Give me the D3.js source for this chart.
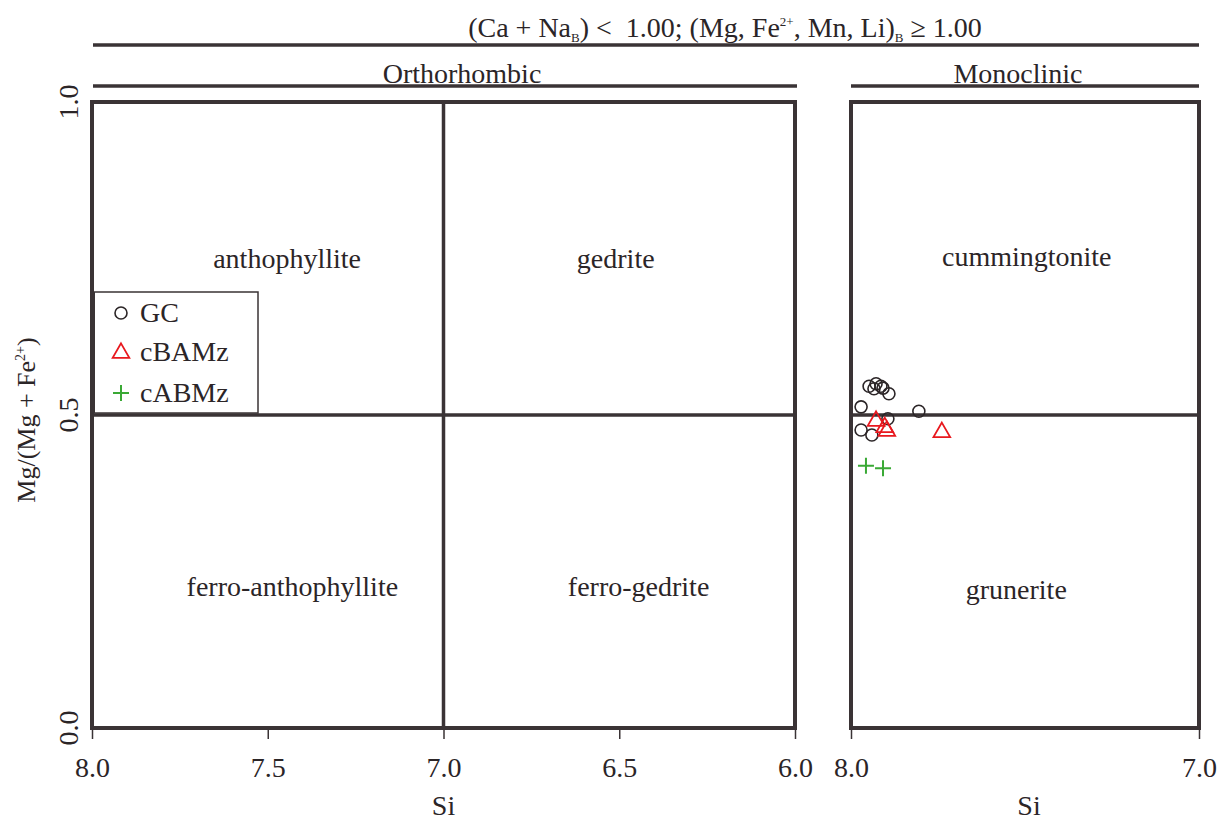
<!DOCTYPE html>
<html>
  <head>
    <meta charset="utf-8">
    <title>Mg amphibole classification</title>
    <script src="https://d3js.org/d3.v7.min.js"></script>
    <style>
      body { margin: 0; background: #fff; }
      text { font-family: "Liberation Serif", "Times New Roman", serif; fill: #2b2527; }
    </style>
  </head>
  <body>
    <script>
      // sample data: Si (apfu) and Mg/(Mg+Fe2+)
      var gcSi = [7.948, 7.928, 7.914, 7.934, 7.908, 7.891, 7.971, 7.894, 7.805, 7.971, 7.940],
        gcMg = [0.546, 0.550, 0.546, 0.542, 0.543, 0.534, 0.513, 0.494, 0.506, 0.476, 0.468];
      var cbSi = [7.928, 7.903, 7.897, 7.739],
        cbMg = [0.492, 0.482, 0.476, 0.474];
      var caSi = [7.957, 7.908],
        caMg = [0.419, 0.415];

      var seriesNames = ["GC", "cBAMz", "cABMz"];
      var leftTicks = [8.0, 7.5, 7.0, 6.5, 6.0],
        rightTicks = [8.0, 7.0],
        yTicks = [0.0, 0.5, 1.0];

      var ink = "#3a3335",
        red = "#e8181e",
        green = "#3aa935",
        fs = "28px";

      var width = 1220, height = 821;
      var svg = d3.select("body").append("svg")
        .attr("width", width)
        .attr("height", height);

      // scales for both panels
      var y = d3.scaleLinear().domain([0, 1]).range([728, 102]);
      var xLeft = d3.scaleLinear().domain([8, 6]).range([92, 795]);
      var xRight = d3.scaleLinear().domain([8, 7]).range([851, 1199]);

      // header lines and labels
      svg.append("text")
        .attr("x", 725).attr("y", 37)
        .attr("text-anchor", "middle")
        .style("font-size", fs)
        .html('(Ca + Na<tspan dy="5" font-size="13">B</tspan><tspan dy="-5">) &lt;\u00a0\u00a01.00; (Mg, Fe</tspan><tspan dy="-11" font-size="13">2+</tspan><tspan dy="11">, Mn, Li)</tspan><tspan dy="5" font-size="13">B</tspan><tspan dy="-5"> ≥ 1.00</tspan>');

      function hline(x1, x2, yy) {
        svg.append("line")
          .attr("x1", x1).attr("x2", x2).attr("y1", yy).attr("y2", yy)
          .attr("stroke", ink).attr("stroke-width", 3.5);
      }
      hline(93, 1199, 45);
      hline(93, 797, 86);
      hline(851, 1199, 86);

      svg.append("text").attr("x", 462).attr("y", 83)
        .attr("text-anchor", "middle").style("font-size", fs).text("Orthorhombic");
      svg.append("text").attr("x", 1018).attr("y", 83)
        .attr("text-anchor", "middle").style("font-size", fs).text("Monoclinic");

      // draw one panel
      function panel(x, ticks, divide) {
        var g = svg.append("g");
        var x0 = x.range()[0], x1 = x.range()[1];

        g.append("rect")
          .attr("x", x0).attr("y", y(1))
          .attr("width", x1 - x0).attr("height", y(0) - y(1))
          .attr("fill", "none").attr("stroke", ink).attr("stroke-width", 4);

        g.append("line")
          .attr("x1", x0).attr("x2", x1).attr("y1", y(0.5)).attr("y2", y(0.5))
          .attr("stroke", ink).attr("stroke-width", 3.5);

        if (divide) {
          g.append("line")
            .attr("x1", x(7)).attr("x2", x(7)).attr("y1", y(0)).attr("y2", y(1))
            .attr("stroke", ink).attr("stroke-width", 3.5);
        }

        var axis = g.append("g")
          .attr("transform", "translate(0," + (y(0) + 2) + ")")
          .call(d3.axisBottom(x).tickValues(ticks).tickFormat(d3.format(".1f")).tickSize(9).tickSizeOuter(0));
        axis.select(".domain").remove();
        axis.selectAll(".tick line").attr("stroke", ink).attr("stroke-width", 1.5);
        axis.selectAll(".tick text")
          .attr("y", 27)
          .style("font-size", fs)
          .style("font-family", "Liberation Serif, serif")
          .attr("fill", "#2b2527");

        g.append("text")
          .attr("x", (x0 + x1) / 2 + (divide ? 0 : 4)).attr("y", 815)
          .attr("text-anchor", "middle").style("font-size", fs).text("Si");
        return g;
      }

      panel(xLeft, leftTicks, true);
      panel(xRight, rightTicks, false);

      // y tick labels, rotated
      yTicks.forEach(function(t) {
        svg.append("text")
          .attr("transform", "translate(78," + y(t) + ") rotate(-90)")
          .attr("text-anchor", "middle")
          .style("font-size", fs)
          .text(d3.format(".1f")(t));
      });

      svg.append("text")
        .attr("transform", "translate(35," + (y(0.5) + 5) + ") rotate(-90)")
        .attr("text-anchor", "middle")
        .style("font-size", "26px")
        .html('Mg/(Mg + Fe<tspan dy="-10" font-size="14">2+</tspan><tspan dy="10">)</tspan>');

      // field names: label, centre Si, Mg ratio
      var fields = [
        ["anthophyllite", 7.445, 0.75],
        ["gedrite", 6.51, 0.75],
        ["ferro-anthophyllite", 7.43, 0.225],
        ["ferro-gedrite", 6.445, 0.225],
        ["cummingtonite", 7.495, 0.752, true],
        ["grunerite", 7.525, 0.22, true]
      ];
      svg.selectAll(".field").data(fields).enter().append("text")
        .attr("class", "field")
        .attr("x", function(d) { return d[3] ? xRight(d[1]) : xLeft(d[1]); })
        .attr("y", function(d) { return y(d[2]) + 9; })
        .attr("text-anchor", "middle")
        .style("font-size", fs)
        .text(function(d) { return d[0]; });

      // symbols
      var tri = d3.symbol().type(d3.symbolTriangle).size(120);
      var plus = "M-8,0H8M0,-8V8";

      svg.selectAll(".gc").data(d3.zip(gcSi, gcMg)).enter().append("circle")
        .attr("cx", function(d) { return xRight(d[0]); })
        .attr("cy", function(d) { return y(d[1]); })
        .attr("r", 6)
        .attr("fill", "none").attr("stroke", "#2b2527").attr("stroke-width", 1.6);

      svg.selectAll(".cb").data(d3.zip(cbSi, cbMg)).enter().append("path")
        .attr("d", tri)
        .attr("transform", function(d) { return "translate(" + xRight(d[0]) + "," + (y(d[1]) + 1) + ")"; })
        .attr("fill", "none").attr("stroke", red).attr("stroke-width", 1.8);

      svg.selectAll(".ca").data(d3.zip(caSi, caMg)).enter().append("path")
        .attr("d", plus)
        .attr("transform", function(d) { return "translate(" + xRight(d[0]) + "," + y(d[1]) + ")"; })
        .attr("fill", "none").attr("stroke", green).attr("stroke-width", 2);

      // legend
      var legend = svg.append("g");
      legend.append("rect")
        .attr("x", 93).attr("y", 292).attr("width", 165).attr("height", 121)
        .attr("fill", "#fff").attr("stroke", ink).attr("stroke-width", 1.5);
      legend.append("line")
        .attr("x1", 93).attr("x2", 93).attr("y1", 292).attr("y2", 413)
        .attr("stroke", ink).attr("stroke-width", 4);
      var ly = [313, 352, 393];
      legend.append("circle").attr("cx", 121).attr("cy", ly[0]).attr("r", 6)
        .attr("fill", "none").attr("stroke", "#2b2527").attr("stroke-width", 1.6);
      legend.append("path").attr("d", tri).attr("transform", "translate(121," + (ly[1] + 1) + ")")
        .attr("fill", "none").attr("stroke", red).attr("stroke-width", 1.8);
      legend.append("path").attr("d", plus).attr("transform", "translate(121," + ly[2] + ")")
        .attr("fill", "none").attr("stroke", green).attr("stroke-width", 2);
      seriesNames.forEach(function(n, i) {
        legend.append("text")
          .attr("x", 140).attr("y", ly[i] + 9)
          .style("font-size", fs)
          .text(n);
      });
    </script>
  </body>
</html>
